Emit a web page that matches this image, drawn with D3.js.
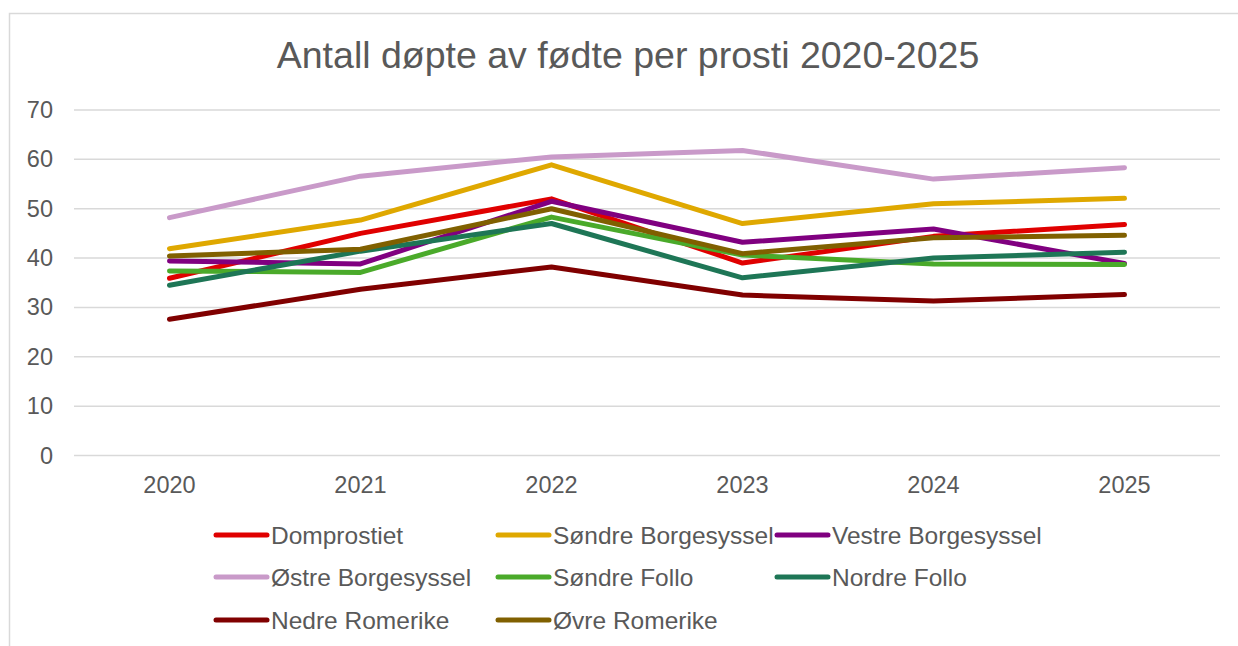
<!DOCTYPE html>
<html lang="no">
<head>
  <meta charset="utf-8">
  <title>Antall døpte av fødte per prosti 2020-2025</title>
  <script src="https://d3js.org/d3.v7.min.js"></script>
  <style>
    body { margin: 0; background: #fff; }
    text { font-family: "Liberation Sans", Arial, sans-serif; fill: #595959; }
  </style>
</head>
<body>
  <script>
    // data
    var years = ["2020", "2021", "2022", "2023", "2024", "2025"];
    var names = ["Domprostiet", "Søndre Borgesyssel", "Vestre Borgesyssel",
                 "Østre Borgesyssel", "Søndre Follo", "Nordre Follo",
                 "Nedre Romerike", "Øvre Romerike"];
    var colors = ["#e00000", "#dfa800", "#800080", "#c99ac9",
                  "#4aaa2a", "#1e7656", "#800000", "#806000"];
    var domprostiet   = [35.9, 45.0, 52.0, 39.0, 44.4, 46.8];
    var sondreBorg    = [41.9, 47.7, 58.9, 47.0, 51.0, 52.1];
    var vestreBorg    = [39.4, 38.8, 51.5, 43.2, 45.9, 38.9];
    var ostreBorg     = [48.2, 56.6, 60.5, 61.8, 56.0, 58.3];
    var sondreFollo   = [37.4, 37.1, 48.3, 40.6, 38.8, 38.7];
    var nordreFollo   = [34.5, 41.4, 47.0, 36.0, 40.0, 41.2];
    var nedreRomerike = [27.6, 33.7, 38.2, 32.5, 31.3, 32.6];
    var ovreRomerike  = [40.4, 41.8, 50.0, 40.9, 44.1, 44.6];
    var yTicks = [0, 10, 20, 30, 40, 50, 60, 70];

    var series = [domprostiet, sondreBorg, vestreBorg, ostreBorg,
                  sondreFollo, nordreFollo, nedreRomerike, ovreRomerike];

    var width = 1238;
    var height = 646;

    var svg = d3.select("body")
      .append("svg")
      .attr("width", width)
      .attr("height", height);

    // chart frame (only left/top edges visible)
    svg.append("rect")
      .attr("x", 9.5).attr("y", 13.5)
      .attr("width", 1240).attr("height", 640)
      .attr("fill", "none")
      .attr("stroke", "#d9d9d9")
      .attr("stroke-width", 1.5);

    svg.append("text")
      .attr("x", 628).attr("y", 68)
      .attr("text-anchor", "middle")
      .style("font-size", "37.5px")
      .text("Antall døpte av fødte per prosti 2020-2025");

    var x = d3.scaleBand().domain(years).range([74, 1220]);
    var y = d3.scaleLinear().domain([0, 70]).range([455.5, 110]);

    // gridlines
    svg.append("g")
      .selectAll("line")
      .data(yTicks)
      .enter()
      .append("line")
      .attr("x1", 74).attr("x2", 1220)
      .attr("y1", function(d) { return y(d); })
      .attr("y2", function(d) { return y(d); })
      .attr("stroke", "#d9d9d9")
      .attr("stroke-width", 1.5);

    var yAxis = svg.append("g")
      .attr("transform", "translate(74,0)")
      .call(d3.axisLeft(y).tickValues(yTicks).tickSize(0).tickPadding(21));
    yAxis.select(".domain").remove();
    yAxis.selectAll("text").style("font-size", "23.5px").attr("fill", "#595959");

    var xAxis = svg.append("g")
      .attr("transform", "translate(0,455.5)")
      .call(d3.axisBottom(x).tickSize(0).tickPadding(21));
    xAxis.select(".domain").remove();
    xAxis.selectAll("text").style("font-size", "23.5px").attr("fill", "#595959");

    var line = d3.line()
      .x(function(d, i) { return x(years[i]) + x.bandwidth() / 2; })
      .y(function(d) { return y(d); });

    svg.append("g")
      .selectAll("path")
      .data(series)
      .enter()
      .append("path")
      .attr("fill", "none")
      .attr("stroke", function(d, i) { return colors[i]; })
      .attr("stroke-width", 5)
      .attr("stroke-linecap", "round")
      .attr("stroke-linejoin", "round")
      .attr("d", line);

    // legend, 3 columns
    var colX = [216, 498, 777];
    var rowY = [535, 577, 620];
    var legend = svg.append("g")
      .selectAll("g")
      .data(names)
      .enter()
      .append("g")
      .attr("transform", function(d, i) {
        return "translate(" + colX[i % 3] + "," + rowY[Math.floor(i / 3)] + ")";
      });
    legend.append("line")
      .attr("x1", 0).attr("x2", 51)
      .attr("stroke", function(d, i) { return colors[i]; })
      .attr("stroke-width", 5)
      .attr("stroke-linecap", "round");
    legend.append("text")
      .attr("x", 55).attr("y", 8.5)
      .style("font-size", "24.5px")
      .text(function(d) { return d; });
  </script>
</body>
</html>
